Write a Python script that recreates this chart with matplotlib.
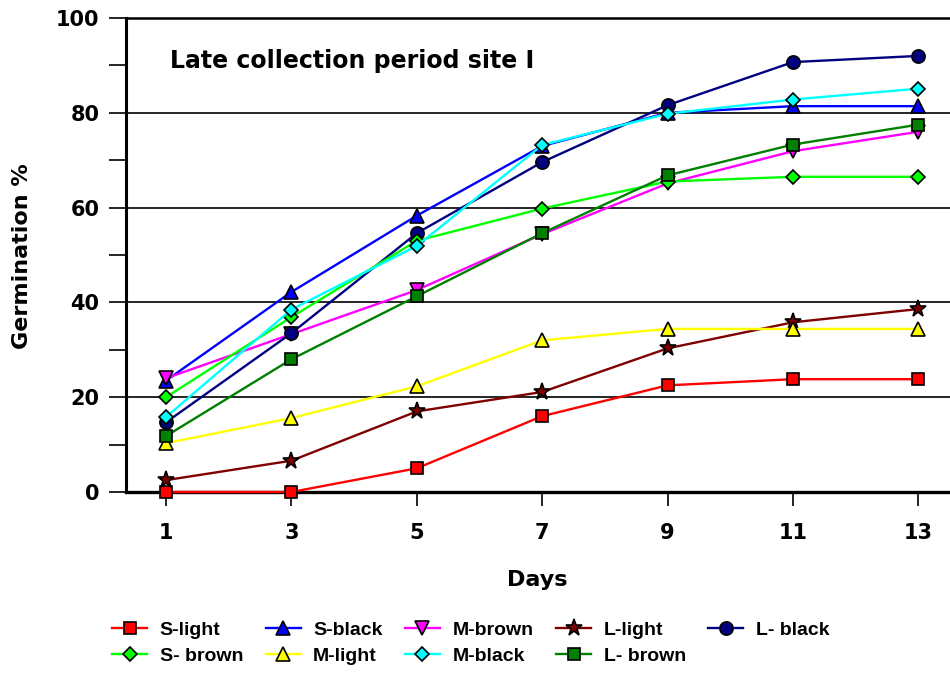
import matplotlib
matplotlib.use("Agg")
import matplotlib.pyplot as plt
from matplotlib.ticker import MultipleLocator

# Germination (%) over time for nine seed groups
days = [1, 3, 5, 7, 9, 11, 13]

s_light = [0, 0, 5, 16, 22.5, 23.8, 23.8]
s_black = [23.5, 42.2, 58.3, 73, 80, 81.4, 81.4]
m_brown = [24, 33.3, 42.6, 54.4, 65.1, 71.9, 76]
l_light = [2.5, 6.6, 17, 21.1, 30.3, 35.8, 38.6]
l_black = [14.7, 33.5, 54.6, 69.6, 81.6, 90.7, 92]
s_brown = [20, 36.9, 53, 59.8, 65.5, 66.5, 66.5]
m_light = [10.3, 15.6, 22.3, 32, 34.4, 34.4, 34.4]
m_black = [15.8, 38.5, 51.9, 73.2, 79.8, 82.8, 85.1]
l_brown = [11.8, 28, 41.3, 54.6, 66.8, 73.3, 77.5]

series_names = ["S-light", "S-black", "M-brown", "L-light", "L- black",
                "S- brown", "M-light", "M-black", "L- brown"]
series_values = [s_light, s_black, m_brown, l_light, l_black,
                 s_brown, m_light, m_black, l_brown]
series_colors = ["#FF0000", "#0000FF", "#FF00FF", "#800000", "#000080",
                 "#00FF00", "#FFFF00", "#00FFFF", "#008000"]
series_markers = ["s", "^", "v", "*", "o", "D", "^", "D", "s"]
marker_sizes = [9, 9.5, 9.5, 12.5, 9.5, 7, 9.5, 7, 9]

y_ticks = [0, 20, 40, 60, 80, 100]

fig = plt.figure(figsize=(9.5, 6.73), dpi=100)
ax = fig.add_axes([126 / 950, (673 - 492) / 673, 824 / 950, 474 / 673])

handles = {}
for name, vals, col, mk, ms in zip(series_names, series_values, series_colors,
                                   series_markers, marker_sizes):
    (h,) = ax.plot(days, vals, color=col, lw=1.7, marker=mk, markersize=ms,
                   markerfacecolor=col, markeredgecolor="black",
                   markeredgewidth=1.2, clip_on=False, zorder=3)
    handles[name] = h

ax.set_xlim(0.362, 13.505)
ax.set_ylim(0, 100)
ax.set_xticks(days)
ax.set_yticks(y_ticks)
ax.yaxis.set_minor_locator(MultipleLocator(10))

for y in y_ticks[1:-1]:
    ax.axhline(y, color="black", lw=1.2, zorder=1)

ax.spines["right"].set_visible(False)
ax.spines["top"].set_linewidth(1.8)
ax.spines["left"].set_linewidth(2.2)
ax.spines["bottom"].set_linewidth(2.4)

tick_font = dict(family="DejaVu Sans", weight="bold", size=15)
ax.tick_params(axis="y", which="both", direction="out", length=12, width=1.2,
               pad=7)
ax.tick_params(axis="x", which="major", direction="out", length=10, width=1.2,
               pad=12)
ax.set_xticklabels([str(d) for d in days], **tick_font)
ax.set_yticklabels([str(v) for v in y_ticks], **tick_font)

fig.text(537 / 950, 1 - 580 / 673, "Days", ha="center", va="center",
         family="DejaVu Sans", weight="bold", size=16)
fig.text(22 / 950, 1 - 256 / 673, "Germination %", ha="center", va="center",
         rotation=90, family="DejaVu Sans", weight="bold", size=16)
fig.text(170 / 950, 1 - 61 / 673, "Late collection period site I",
         ha="left", va="center", family="DejaVu Sans", weight="bold", size=17)

legend_order = ["S-light", "S- brown", "S-black", "M-light", "M-brown",
                "M-black", "L-light", "L- brown", "L- black"]
leg = fig.legend([handles[n] for n in legend_order], legend_order, ncol=5,
                 loc="center left", bbox_to_anchor=(112 / 950, 1 - 643 / 673),
                 frameon=False, borderpad=0, borderaxespad=0,
                 handlelength=1.8, handletextpad=0.65, columnspacing=1.15,
                 labelspacing=0.45,
                 prop=dict(family="Liberation Sans", weight="bold", size=14))

fig.savefig("out.png", dpi=100)
